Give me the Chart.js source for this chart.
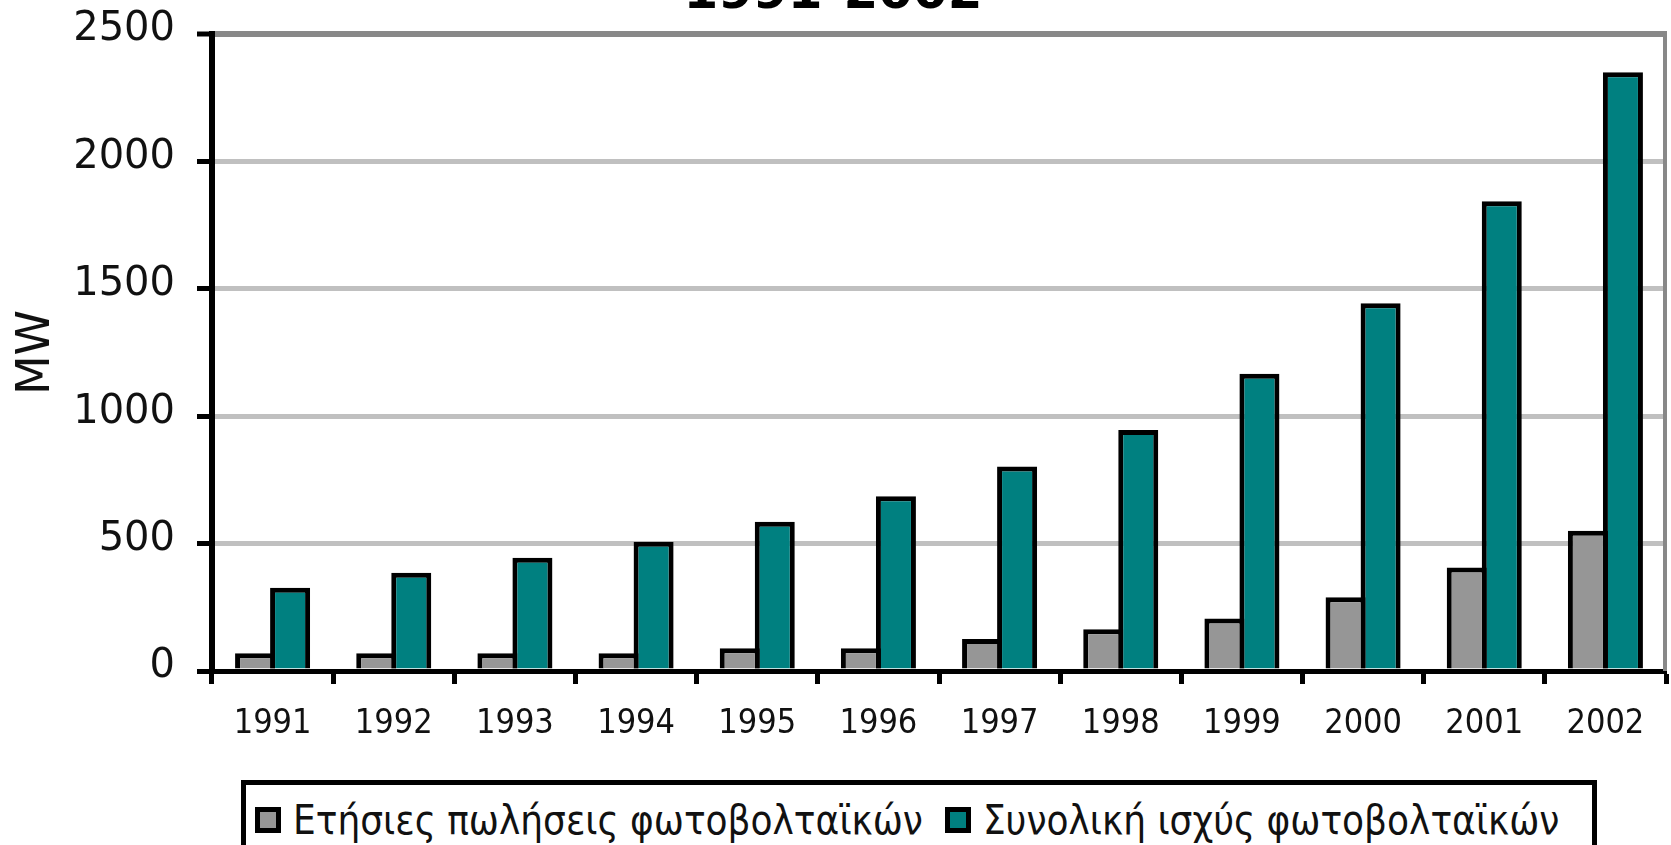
<!DOCTYPE html>
<html lang="el">
<head>
<meta charset="utf-8">
<title>Φωτοβολταϊκά 1991-2002</title>
<script src="https://cdn.jsdelivr.net/npm/chart.js@4.4.1/dist/chart.umd.min.js"></script>
<style>
    html, body { margin: 0; padding: 0; background: #fff; }
    body { width: 1671px; height: 845px; overflow: hidden; position: relative; }
    #zone { position: absolute; left: 0; top: -37px; width: 1671px; height: 778px; }
    #legende {
        position: absolute; left: 241px; top: 780px; width: 1356px; height: 110px;
        border: 5px solid #000; box-sizing: border-box;
        display: flex; align-items: center; padding: 0 0 30px 9px;
        font-family: 'DejaVu Sans Condensed', 'DejaVu Sans', sans-serif; font-size: 40px; color: #111;
    }
    .item { display: flex; align-items: center; margin-right: 22px; white-space: nowrap; }
    .carre { width: 26px; height: 26px; border: 5px solid #000; box-sizing: border-box; margin-right: 12px; flex: none; }
</style>
</head>
<body>
<div id="zone"><canvas id="graphique"></canvas></div>
<div id="legende"></div>

<script>
// Données (MW)
const annees = ['1991', '1992', '1993', '1994', '1995', '1996', '1997', '1998', '1999', '2000', '2001', '2002'];
const ventesAnnuelles = [70, 70, 70, 70, 89, 89, 126, 164, 206, 289, 406, 550];
const puissanceTotale = [327, 386, 444, 507, 586, 686, 803, 946, 1167, 1443, 1844, 2350];
const ticksY = [0, 500, 1000, 1500, 2000, 2500];

const libelles = ['Ετήσιες πωλήσεις φωτοβολταϊκών', 'Συνολική ισχύς φωτοβολταϊκών'];
const couleurs = ['#969696', '#008080'];

// Cadre gris à droite de la zone de tracé
const cadrePlugin = {
    id: 'cadre',
    beforeDatasetsDraw(chart) {
        const { ctx, chartArea } = chart;
        ctx.save();
        ctx.strokeStyle = '#888';
        ctx.lineWidth = 4;
        ctx.beginPath();
        ctx.moveTo(chartArea.right - 1, chartArea.top - 3);
        ctx.lineTo(chartArea.right - 1, chartArea.bottom);
        ctx.stroke();
        ctx.restore();
    }
};

const ctx = document.getElementById('graphique').getContext('2d');
const graphique = new Chart(ctx, {
    type: 'bar',
    data: {
        labels: annees,
        datasets: [{
            label: libelles[0],
            data: ventesAnnuelles,
            backgroundColor: couleurs[0],
            borderColor: '#000',
            borderWidth: 5
        }, {
            label: libelles[1],
            data: puissanceTotale,
            backgroundColor: couleurs[1],
            borderColor: '#000',
            borderWidth: 5
        }]
    },
    options: {
        responsive: true,
        maintainAspectRatio: false,
        animation: false,
        categoryPercentage: 0.578,
        barPercentage: 1.143,
        layout: { padding: { left: 0, right: 5, top: 0, bottom: 0 } },
        plugins: {
            legend: { display: false },
            tooltip: { enabled: false },
            title: {
                display: true,
                text: '1991-2002',
                color: '#000',
                font: { family: 'DejaVu Sans', size: 50, weight: 'bold' },
                padding: { top: 2, bottom: 9 }
            }
        },
        scales: {
            x: {
                afterFit: function(scale) {
                    scale.height = 70;
                },
                grid: {
                    drawOnChartArea: false,
                    drawTicks: true,
                    tickLength: 13,
                    tickColor: '#000',
                    tickWidth: 5
                },
                border: { color: '#000', width: 5 },
                ticks: {
                    color: '#111',
                    padding: 20,
                    maxRotation: 0,
                    autoSkip: false,
                    font: { family: "'Liberation Sans Narrow', 'DejaVu Sans Condensed', sans-serif", size: 34 }
                }
            },
            y: {
                min: 0,
                max: 2500,
                afterBuildTicks: function(scale) {
                    scale.ticks = ticksY.map(v => ({ value: v }));
                },
                afterFit: function(scale) {
                    scale.width = 212;
                },
                grid: {
                    color: function(c) {
                        if (!c.tick) return '#c0c0c0';
                        if (c.tick.value === 2500) return '#888';
                        if (c.tick.value === 0) return '#000';
                        return '#c0c0c0';
                    },
                    lineWidth: function(c) {
                        return c.tick && c.tick.value === 2500 ? 6 : 5;
                    },
                    tickLength: 15,
                    tickColor: '#000',
                    tickWidth: 5
                },
                border: { color: '#000', width: 6 },
                ticks: {
                    color: '#111',
                    padding: 22,
                    labelOffset: -4,
                    font: { family: 'DejaVu Sans', size: 40 },
                    callback: function(value) {
                        return String(value);
                    }
                },
                title: {
                    display: true,
                    text: 'MW',
                    color: '#111',
                    padding: { top: 9, bottom: 0 },
                    font: { family: 'DejaVu Sans', size: 46 }
                }
            }
        }
    },
    plugins: [cadrePlugin]
});

// Légende HTML encadrée, construite à partir des séries
const legende = document.getElementById('legende');
graphique.data.datasets.forEach(function(ds) {
    const item = document.createElement('div');
    item.className = 'item';
    const carre = document.createElement('span');
    carre.className = 'carre';
    carre.style.background = ds.backgroundColor;
    const texte = document.createElement('span');
    texte.textContent = ds.label;
    item.appendChild(carre);
    item.appendChild(texte);
    legende.appendChild(item);
});
</script>
</body>
</html>
